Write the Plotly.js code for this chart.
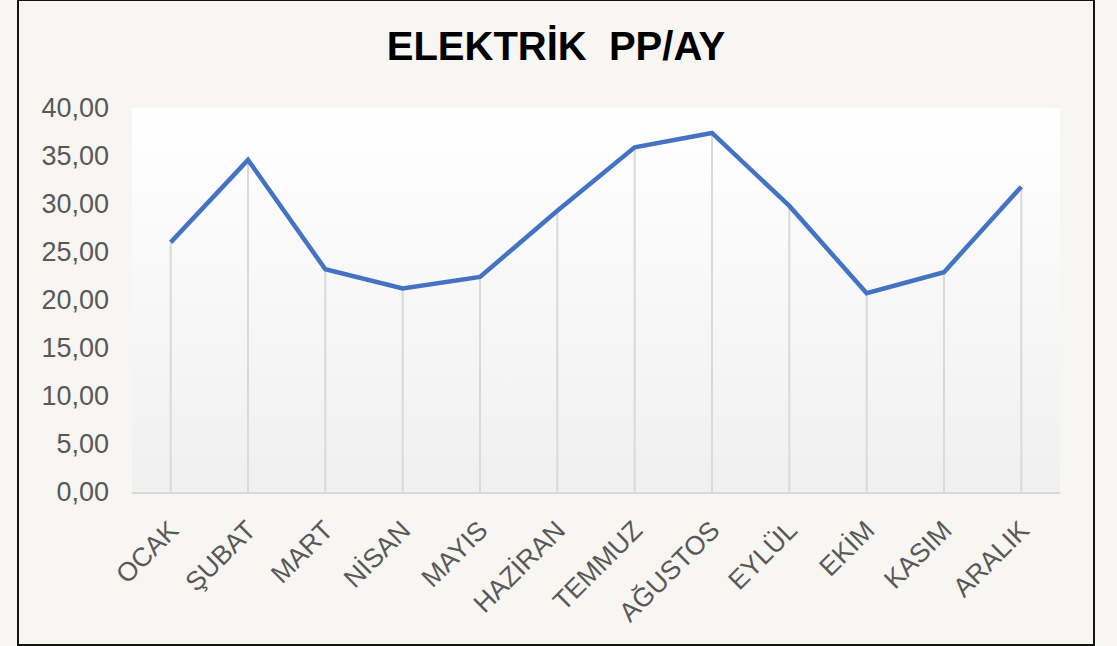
<!DOCTYPE html>
<html>
<head>
<meta charset="utf-8">
<script src="https://cdn.plot.ly/plotly-3.0.1.min.js"></script>
<style>
  html, body { margin:0; padding:0; background:#f7f6f2; width:1117px; height:646px; overflow:hidden; }
  #frame { position:absolute; left:17px; top:-1px; width:1074px; height:643px; border:2px solid #141414; background:#f7f6f2; }
  #chart { width:1074px; height:643px; }
</style>
</head>
<body>
<div id="frame"><div id="chart"></div></div>
<script>
const months = ['OCAK','ŞUBAT','MART','NİSAN','MAYIS','HAZİRAN','TEMMUZ','AĞUSTOS','EYLÜL','EKİM','KASIM','ARALIK'];
const values = [26.0, 34.6, 23.2, 21.2, 22.4, 29.3, 35.9, 37.4, 29.8, 20.7, 22.9, 31.8];
const yTicks = [0, 5, 10, 15, 20, 25, 30, 35, 40];

const gradSvg = '<svg xmlns="http://www.w3.org/2000/svg" width="100" height="100" preserveAspectRatio="none">' +
  '<defs><linearGradient id="g" x1="0" y1="0" x2="0" y2="1">' +
  '<stop offset="0" stop-color="#ffffff"/><stop offset="1" stop-color="#f0f0f0"/>' +
  '</linearGradient></defs><rect width="100" height="100" fill="url(#g)"/></svg>';
const gradUri = 'data:image/svg+xml;base64,' + btoa(gradSvg);

const dropLines = {
  x: months,
  y: values,
  type: 'scatter',
  mode: 'markers',
  marker: { opacity: 0, size: 1 },
  error_y: {
    type: 'data', symmetric: false,
    array: values.map(() => 0),
    arrayminus: values,
    width: 0, thickness: 2, color: '#d9d9d9'
  },
  hoverinfo: 'skip',
  showlegend: false
};

const line = {
  x: months,
  y: values,
  type: 'scatter',
  mode: 'lines',
  line: { color: '#4472C4', width: 4.5, shape: 'linear' },
  showlegend: false
};

const layout = {
  width: 1074,
  height: 643,
  paper_bgcolor: '#f7f6f2',
  plot_bgcolor: 'rgba(0,0,0,0)',
  separators: ',.',
  margin: { l: 113, r: 33, t: 107, b: 152 },
  title: {
    text: '<b>ELEKTRİK  PP/AY</b>',
    font: { family: 'Liberation Sans, Arial, sans-serif', size: 40, color: '#000000' },
    x: 0.5, xanchor: 'center',
    y: 1 - 45 / 643, yref: 'container', yanchor: 'middle'
  },
  font: { family: 'Liberation Sans, Arial, sans-serif', color: '#595959' },
  xaxis: {
    type: 'category',
    range: [-0.5, months.length - 0.5],
    tickangle: -45,
    tickfont: { size: 26.5, color: '#595959' },
    showgrid: false,
    showline: true, linecolor: '#d9d9d9', linewidth: 2,
    ticks: '',
    ticklabelstandoff: 10,
    zeroline: false,
    fixedrange: true
  },
  yaxis: {
    range: [0, 40],
    tickvals: yTicks,
    tickformat: '.2f',
    tickfont: { size: 27, color: '#595959' },
    showgrid: false,
    zeroline: false,
    showline: false,
    ticks: '',
    ticklabelstandoff: 22,
    fixedrange: true
  },
  images: [{
    source: gradUri,
    xref: 'paper', yref: 'paper',
    x: 0, y: 1, sizex: 1, sizey: 1,
    xanchor: 'left', yanchor: 'top',
    sizing: 'stretch', layer: 'below'
  }]
};

Plotly.newPlot('chart', [dropLines, line], layout, { displayModeBar: false, staticPlot: true });
</script>
</body>
</html>
